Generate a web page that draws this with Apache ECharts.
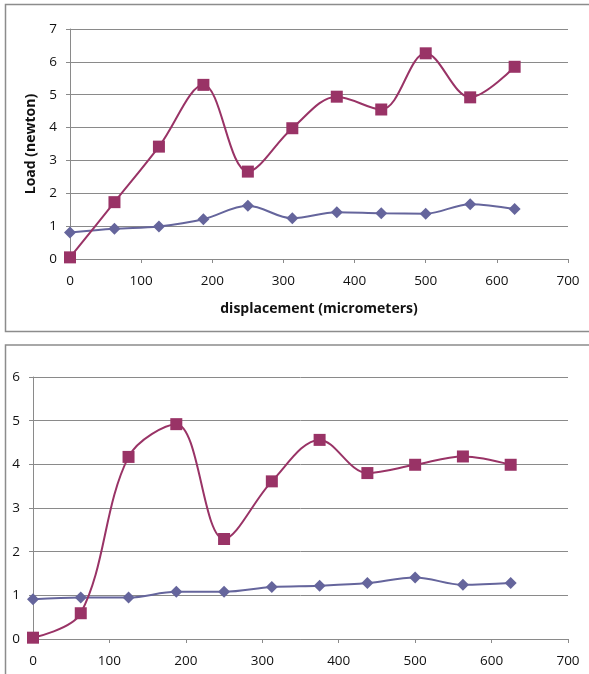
<!DOCTYPE html>
<html>
<head>
<meta charset="utf-8">
<script src="https://cdn.jsdelivr.net/npm/echarts@6/dist/echarts.min.js"></script>
<style>
  html, body { margin: 0; padding: 0; background: #fff; }
  #chart { width: 589px; height: 674px; }
</style>
</head>
<body>
<div id="chart"></div>
<script>
// Displacement steps shared by both tests (micrometers)
const displacement = [0, 62.5, 125, 187.5, 250, 312.5, 375, 437.5, 500, 562.5, 625];

// Upper panel: load readings (newton)
const topBlue = [0.81, 0.92, 0.99, 1.21, 1.62, 1.24, 1.42, 1.39, 1.38, 1.67, 1.52];
const topRed  = [0.05, 1.73, 3.42, 5.30, 2.66, 3.98, 4.94, 4.55, 6.26, 4.92, 5.85];

// Lower panel: load readings (newton)
const botBlue = [0.91, 0.95, 0.95, 1.08, 1.08, 1.19, 1.22, 1.28, 1.41, 1.24, 1.28];
const botRed  = [0.03, 0.59, 4.17, 4.92, 2.29, 3.61, 4.56, 3.80, 3.99, 4.18, 3.99];

// Axis ranges
const xTicks = { min: 0, max: 700, interval: 100 };
const topY = { min: 0, max: 7, interval: 1 };
const botY = { min: 0, max: 6, interval: 1 };

const BLUE = '#65659c';
const RED = '#993366';
const GRID_LINE = '#8a8a8a';
const FONT = 'Open Sans';

const pairs = (ys) => displacement.map((x, i) => [x, ys[i]]);

function xAxis(gridIndex, name) {
  return {
    type: 'value', gridIndex,
    min: xTicks.min, max: xTicks.max, interval: xTicks.interval,
    name: name || '',
    nameLocation: 'middle',
    nameGap: 43,
    nameTextStyle: { fontFamily: FONT, fontWeight: 'bold', fontSize: 14, color: '#111' },
    axisLine: { show: true, lineStyle: { color: GRID_LINE, width: 1 } },
    axisTick: { show: true, inside: false, length: 4, lineStyle: { color: GRID_LINE } },
    axisLabel: { margin: 15, fontFamily: FONT, fontSize: 13.5, color: '#111' },
    splitLine: { show: false }
  };
}

function yAxis(gridIndex, range, name, margin) {
  return {
    type: 'value', gridIndex,
    min: range.min, max: range.max, interval: range.interval,
    name: name || '',
    nameLocation: 'middle',
    nameGap: 31,
    nameRotate: 90,
    nameTextStyle: { fontFamily: FONT, fontWeight: 'bold', fontSize: 14, color: '#111' },
    axisLine: { show: true, lineStyle: { color: GRID_LINE, width: 1 } },
    axisTick: { show: true, inside: false, length: 4, lineStyle: { color: GRID_LINE } },
    axisLabel: { margin: margin, fontFamily: FONT, fontSize: 13.5, color: '#111' },
    splitLine: { show: true, lineStyle: { color: GRID_LINE, width: 1 } }
  };
}

function lineSeries(idx, data, color, symbol, size) {
  return {
    type: 'line', xAxisIndex: idx, yAxisIndex: idx,
    data: pairs(data),
    smooth: 0.35,
    symbol, symbolSize: size,
    showSymbol: true,
    lineStyle: { color, width: 2 },
    itemStyle: { color, borderWidth: 0 },
    emphasis: { disabled: true },
    animation: false
  };
}

const chart = echarts.init(document.getElementById('chart'), null, { renderer: 'canvas' });
chart.setOption({
  backgroundColor: '#fff',
  animation: false,
  graphic: [
    { type: 'rect', shape: { x: 5.5, y: 4.5, width: 600, height: 327 },
      style: { fill: 'none', stroke: '#8c8c8c', lineWidth: 1.5 }, silent: true, z: -1 },
    { type: 'rect', shape: { x: 5.5, y: 345, width: 600, height: 340 },
      style: { fill: 'none', stroke: '#8c8c8c', lineWidth: 1.5 }, silent: true, z: -1 }
  ],
  grid: [
    { left: 70, top: 29, width: 498, height: 230 },
    { left: 33, top: 377, width: 535, height: 262 }
  ],
  xAxis: [xAxis(0, 'displacement (micrometers)'), xAxis(1)],
  yAxis: [yAxis(0, topY, 'Load (newton)', 13), yAxis(1, botY, '', 13)],
  series: [
    lineSeries(0, topBlue, BLUE, 'diamond', 12),
    lineSeries(0, topRed, RED, 'rect', 12),
    lineSeries(1, botBlue, BLUE, 'diamond', 12),
    lineSeries(1, botRed, RED, 'rect', 12)
  ]
});
</script>
</body>
</html>
